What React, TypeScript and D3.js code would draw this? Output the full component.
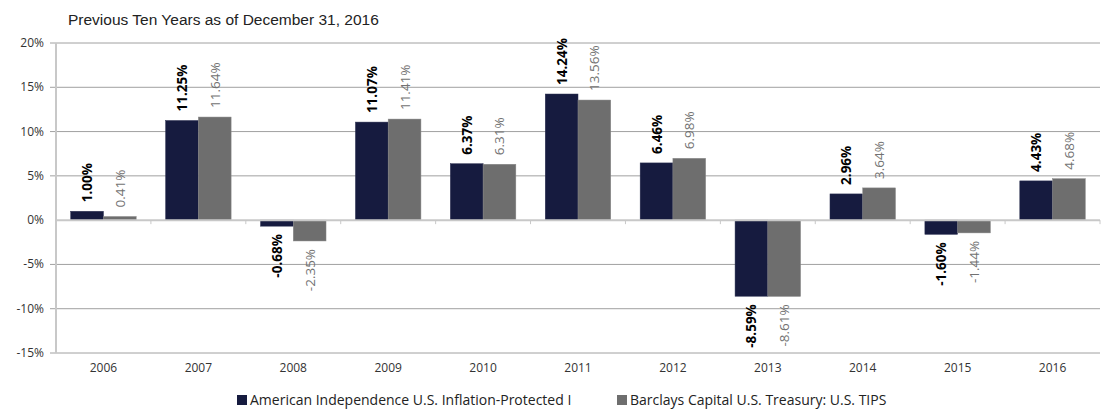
import React from "react";
import * as d3 from "d3";

const years = ["2006","2007","2008","2009","2010","2011","2012","2013","2014","2015","2016"];
const fundValues = [1.00, 11.25, -0.68, 11.07, 6.37, 14.24, 6.46, -8.59, 2.96, -1.60, 4.43];
const indexValues = [0.41, 11.64, -2.35, 11.41, 6.31, 13.56, 6.98, -8.61, 3.64, -1.44, 4.68];
const yTicks = [20, 15, 10, 5, 0, -5, -10, -15];
const seriesNames = ["American Independence U.S. Inflation-Protected I", "Barclays Capital U.S. Treasury: U.S. TIPS"];
const colors = ["#161b3f", "#6e6e6e"];

export default function App() {
  const W = 1105, H = 409;
  const left = 56, right = 1100, top = 43, bottom = 353;
  const x = d3.scaleBand<string>().domain(years).range([left, right]).paddingInner(0.31).paddingOuter(0.155);
  const y = d3.scaleLinear().domain([-15, 20]).range([bottom, top]);
  const bw = x.bandwidth() / 2;
  const font = "'Open Sans', 'Liberation Sans', sans-serif";
  const step = x.step();
  return (
    <svg width={W} height={H} style={{ position: "absolute", left: 0, top: 0, background: "#fff" }} fontFamily={font}>
      <text x={68} y={25} fontSize={15.5} fontFamily="'Liberation Sans Narrow', 'Arial Narrow', 'Liberation Sans', sans-serif" fill="#222">Previous Ten Years as of December 31, 2016</text>
      {yTicks.map(t => (
        <g key={t}>
          {t !== 0 && <line x1={left - 6} x2={right} y1={y(t)} y2={y(t)} stroke="#a0a0a0" strokeWidth={1} />}
          <text x={left - 12} y={y(t) + 4} fontSize={12} textAnchor="end" fill="#333">{t}%</text>
        </g>
      ))}
      <line x1={left} x2={left} y1={top} y2={bottom} stroke="#c8c8c8" strokeWidth={2} />
      {years.map((yr, i) => {
        const x0 = x(yr)!;
        const vals = [fundValues[i], indexValues[i]];
        return (
          <g key={yr}>
            {vals.map((v, s) => {
              const bx = x0 + s * bw;
              const y1 = y(Math.max(0, v)), y2 = y(Math.min(0, v));
              const cx = bx + bw / 2;
              const label = v.toFixed(2) + "%";
              const ly = v >= 0 ? y(v) - 9 : y(v) + 8;
              return (
                <g key={s}>
                  <rect x={bx} y={y1} width={bw} height={Math.max(0.5, y2 - y1)} fill={colors[s]} stroke={s === 0 ? "#2a2f50" : "#888"} strokeWidth={0.5} />
                  <text transform={`translate(${cx + 5},${ly}) rotate(-90)`} fontSize={13.5} fontWeight={s === 0 ? "bold" : "normal"} fill={s === 0 ? "#000" : "#727272"} textAnchor={v >= 0 ? "start" : "end"}>{label}</text>
                </g>
              );
            })}
            <text x={x0 + bw} y={372} fontSize={12} textAnchor="middle" fill="#333">{yr}</text>
          </g>
        );
      })}
      <line x1={left} x2={right} y1={y(0)} y2={y(0)} stroke="#c8c8c8" strokeWidth={2} />
      {d3.range(years.length + 1).map(i => (
        <line key={i} x1={left + i * step} x2={left + i * step} y1={y(0)} y2={y(0) + 4} stroke="#c8c8c8" strokeWidth={1} />
      ))}
      <rect x={237} y={395} width={10} height={10} fill={colors[0]} />
      <text x={250} y={405} fontSize={14} fill="#222">{seriesNames[0]}</text>
      <rect x={617} y={395} width={10} height={10} fill={colors[1]} />
      <text x={630} y={405} fontSize={14} fill="#222">{seriesNames[1]}</text>
    </svg>
  );
}
